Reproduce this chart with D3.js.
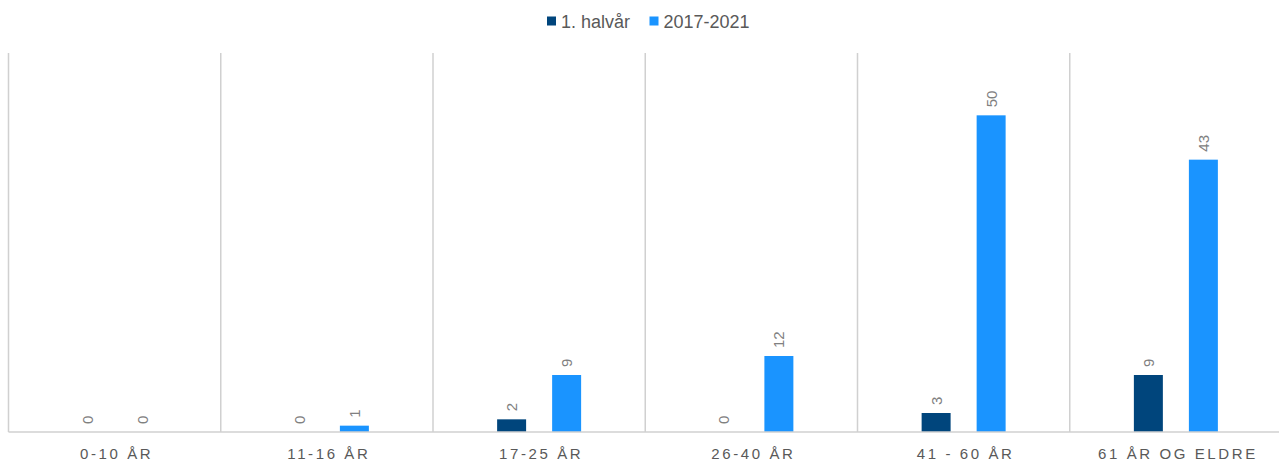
<!DOCTYPE html>
<html><head><meta charset="utf-8">
<script src="https://cdn.jsdelivr.net/npm/d3@7"></script>
<style>body{margin:0;background:#fff}svg{display:block;font-family:"Liberation Sans",Arial,sans-serif}</style>
</head><body>
<svg id="c" width="1279" height="461"></svg>
<script>
const categories = ["0-10 ÅR","11-16 ÅR","17-25 ÅR","26-40 ÅR","41 - 60 ÅR","61 ÅR OG ELDRE"];
const seriesNames = ["1. halvår","2017-2021"];
const halvaar = [0,0,2,0,3,9];
const periode = [0,1,9,12,50,43];
const colors = ["#00457C","#1A94FF"];

(function(){
const svg = d3.select("#c");
const pLeft = 8.5, pRight = 1282, pTop = 52, pBottom = 432;
const x0 = d3.scaleBand().domain(categories).range([pLeft, pRight]).padding(0);
const bw = x0.bandwidth();
const x1 = d3.scaleBand().domain(seriesNames).range([bw/2-42, bw/2+42]).paddingInner(0.473);
const y = d3.scaleLinear().domain([0,60]).range([pBottom, pTop]);

// vertical separators
const seps = categories.map(c => x0(c)).concat([x0(categories[categories.length-1]) + bw]);
svg.append("g").selectAll("line").data(seps).join("line")
  .attr("x1", d=>d).attr("x2", d=>d).attr("y1", pTop+1).attr("y2", pBottom)
  .attr("stroke", "#d0d0d0").attr("stroke-width", 1.5);

// bars
const data = [halvaar, periode];
const g = svg.append("g");
categories.forEach((c, i) => {
  seriesNames.forEach((s, j) => {
    const v = data[j][i];
    const bx = x0(c) + x1(s);
    g.append("rect").attr("x", bx).attr("y", y(v)).attr("width", x1.bandwidth())
      .attr("height", pBottom - y(v)).attr("fill", colors[j]);
    const cx = bx + x1.bandwidth()/2;
    const ty = y(v) - 8;
    g.append("text").attr("transform", `translate(${cx+5.5},${ty}) rotate(-90)`)
      .attr("font-size", 15).attr("fill", "#808080").attr("text-anchor", "start")
      .text(v);
  });
});

// axis line
svg.append("line").attr("x1", pLeft).attr("x2", 1279).attr("y1", pBottom).attr("y2", pBottom)
  .attr("stroke", "#d0d0d0").attr("stroke-width", 1.5);

// category labels
svg.append("g").selectAll("text").data(categories).join("text")
  .attr("x", d => x0(d) + bw/2 + 2).attr("y", 459)
  .attr("text-anchor", "middle").attr("font-size", 15).attr("fill", "#595959")
  .attr("letter-spacing", "2.6px")
  .text(d => d);

// legend
const leg = svg.append("g");
const legX = [547, 649.5];
seriesNames.forEach((s, j) => {
  leg.append("rect").attr("x", legX[j]).attr("y", 16.5).attr("width", 9).attr("height", 9).attr("fill", colors[j]);
  leg.append("text").attr("x", legX[j] + 14).attr("y", 27.5).attr("font-size", 18)
    .attr("fill", "#595959").text(s);
});
})();
</script>
</body></html>
